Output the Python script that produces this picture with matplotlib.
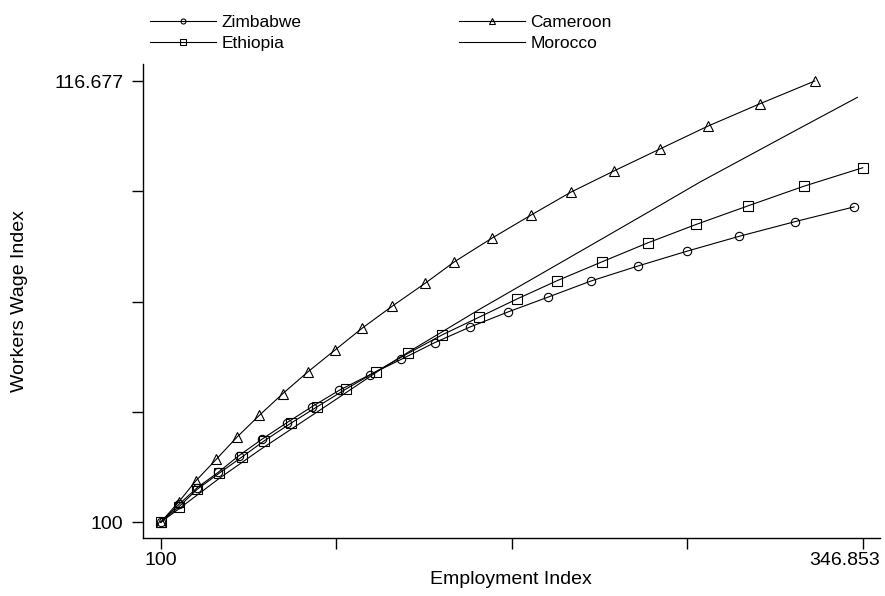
import matplotlib
matplotlib.use('Agg')
import matplotlib.pyplot as plt
from matplotlib.transforms import ScaledTranslation

plt.rcParams['font.family'] = ['Liberation Sans', 'DejaVu Sans']

# values (employment index, workers wage index)
zim_x = [100, 106.43, 112.87, 120.25, 127.53, 135.62, 144.31, 153.20, 162.80, 173.60, 184.60,
         196.35, 208.77, 222.13, 236.20, 251.32, 267.94, 285.17, 303.46, 322.94, 343.79]
zim_y = [100, 100.68, 101.31, 101.89, 102.52, 103.14, 103.76, 104.37, 104.99, 105.58, 106.16,
         106.79, 107.38, 107.95, 108.51, 109.12, 109.69, 110.25, 110.81, 111.36, 111.92]

eth_x = [100, 106.43, 112.87, 120.50, 128.48, 136.43, 145.71, 155.07, 165.05, 175.60, 187.07,
         198.92, 211.93, 225.29, 239.36, 255.07, 271.25, 288.34, 306.52, 326.11, 346.853]
eth_y = [100, 100.59, 101.25, 101.85, 102.46, 103.08, 103.74, 104.37, 105.03, 105.69, 106.39,
         107.08, 107.75, 108.44, 109.13, 109.84, 110.56, 111.26, 111.96, 112.70, 113.40]

cam_x = [100, 106.43, 112.31, 119.55, 126.83, 134.67, 142.90, 151.80, 161.29, 170.89, 181.44,
         192.94, 203.19, 216.50, 230.21, 244.28, 259.40, 275.57, 292.56, 310.74, 329.97]
cam_y = [100, 100.78, 101.56, 102.38, 103.22, 104.04, 104.86, 105.69, 106.51, 107.34, 108.17,
         109.03, 109.84, 110.74, 111.61, 112.48, 113.28, 114.11, 114.98, 115.82, 116.677]

mor_x = [100, 106.79, 113.82, 120.85, 127.88, 134.91, 145.47, 156.01, 166.56, 177.11, 187.66,
         198.21, 212.28, 226.34, 240.41, 254.48, 272.06, 289.64, 307.22, 324.81, 344.96]
mor_y = [100, 100.54, 101.11, 101.68, 102.21, 102.74, 103.49, 104.24, 105.00, 105.76, 106.47,
         107.15, 108.06, 108.93, 109.80, 110.67, 111.76, 112.86, 113.88, 114.90, 116.06]

x_min, x_max = 100, 346.853
y_min, y_max = 100, 116.677

fig = plt.figure(figsize=(8.85, 5.96), dpi=100)
ax = fig.add_axes([0.1612, 0.0968, 0.8332, 0.7958])

style = dict(color='black', lw=0.8, mfc='none', mec='black', mew=0.8)
ax.plot(zim_x, zim_y, marker='o', ms=6, label='Zimbabwe', **style)
ax.plot(cam_x, cam_y, marker='^', ms=7, label='Cameroon', **style)
ax.plot(eth_x, eth_y, marker='s', ms=6.5, label='Ethiopia', **style)
ax.plot(mor_x, mor_y, label='Morocco', **style)

ax.set_xlim(93.67, 352.93)
ax.set_ylim(99.395, 117.32)

xt = [x_min + i * (x_max - x_min) / 4 for i in range(5)]
yt = [y_min + i * (y_max - y_min) / 4 for i in range(5)]
ax.set_xticks(xt)
ax.set_xticklabels(['100', '', '', '', '346.853'])
ax.set_yticks(yt)
ax.set_yticklabels(['100', '', '', '', '116.677'])
ax.tick_params(direction='out', length=8, width=1, labelsize=14)
ax.tick_params(axis='x', pad=2)
ax.tick_params(axis='y', pad=6)

# last x label is pushed left so it stays inside the figure
last = ax.get_xticklabels()[-1]
last.set_ha('right')
last.set_transform(last.get_transform() + ScaledTranslation(0.17, 0, fig.dpi_scale_trans))

for s in ['top', 'right']:
    ax.spines[s].set_visible(False)
for s in ['left', 'bottom']:
    ax.spines[s].set_linewidth(1)

ax.set_xlabel('Employment Index', fontsize=14, labelpad=1)
ax.set_ylabel('Workers Wage Index', fontsize=14, labelpad=19)

h, l = ax.get_legend_handles_labels()
order = [0, 2, 1, 3]
fig.legend([h[i] for i in order], [l[i] for i in order], ncol=2,
           loc='upper left', bbox_to_anchor=(0.158, 0.992), frameon=False,
           fontsize=12.5, handlelength=3.8, handletextpad=0.3, columnspacing=9.1,
           markerscale=0.6, labelspacing=0.3, borderaxespad=0.2)

fig.savefig('out.png', dpi=100)
